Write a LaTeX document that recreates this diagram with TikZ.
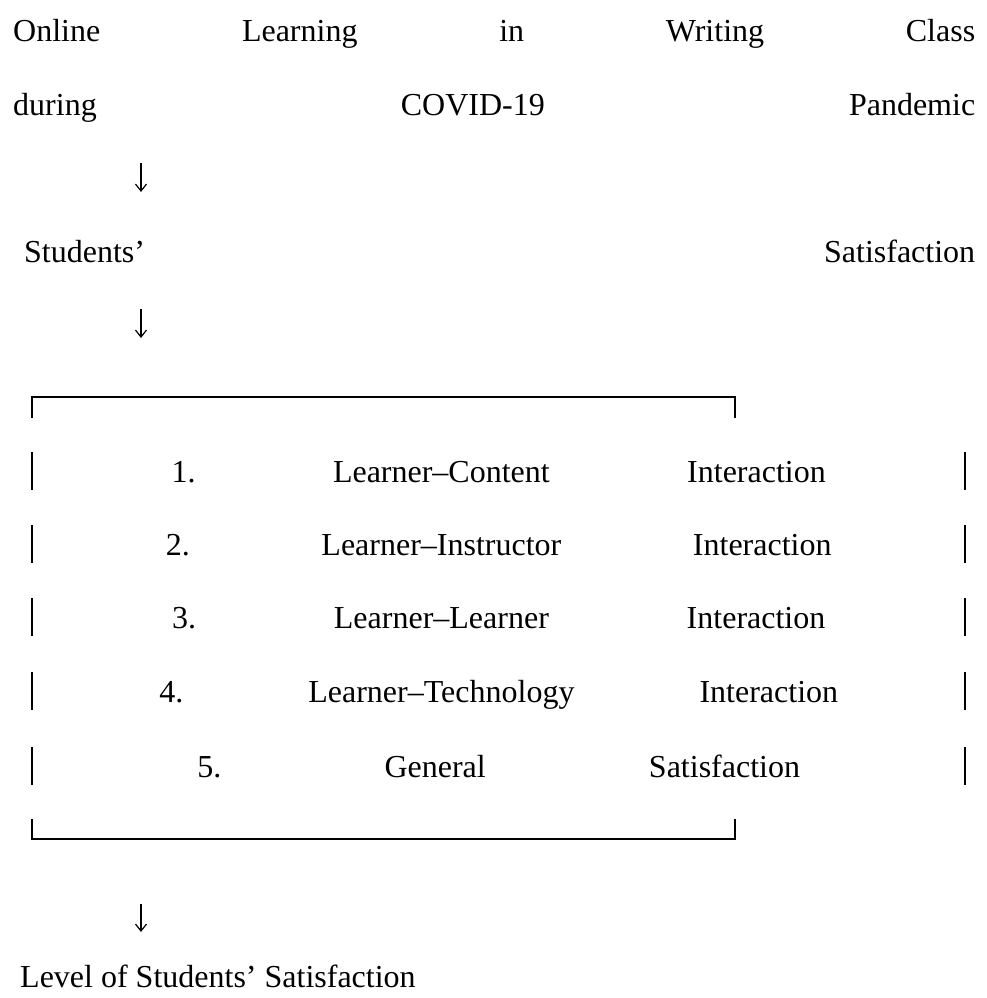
\documentclass[tikz,border=0pt]{standalone}
\usepackage{fontspec}
\setmainfont{Liberation Serif}
\usetikzlibrary{arrows.meta}

\begin{document}
\begin{tikzpicture}[x=1pt,y=-1pt,font=\fontsize{32}{38}\selectfont]
     \tikzstyle{textline}=[inner sep=0pt, anchor=base west]
     \tikzstyle{flow}=[draw, line width=1.2pt, -{Straight Barb[length=7pt,width=11pt]}]
     \tikzstyle{frame}=[draw, line width=2.8pt]
     \useasboundingbox (0,0) rectangle (987,998);
     % heading, spread over the full line
     \node[textline] (title1) at (13,42) {\makebox[962pt][s]{Online Learning in Writing Class}};
     \node[textline] (title2) at (13,115) {\makebox[962pt][s]{during COVID-19 Pandemic}};
     \node[textline] (sat) at (24,262) {\makebox[951pt][s]{Students’ Satisfaction}};
     % indicators inside the bracket
     \node[textline] (ind1) at (34,482) {\makebox[929pt]{\hfill 1.\hfill Learner–Content\hfill Interaction\hfill}};
     \node[textline] (ind2) at (34,555) {\makebox[929pt]{\hfill 2.\hfill Learner–Instructor\hfill Interaction\hfill}};
     \node[textline] (ind3) at (34,628) {\makebox[929pt]{\hfill 3.\hfill Learner–Learner\hfill Interaction\hfill}};
     \node[textline] (ind4) at (34,702) {\makebox[929pt]{\hfill 4.\hfill Learner–Technology\hfill Interaction\hfill}};
     \node[textline] (ind5) at (34,777) {\makebox[929pt]{\hfill 5.\hfill General\hfill Satisfaction\hfill}};
     \node[textline] (level) at (20,987) {Level of Students’ Satisfaction};
     % bracket
     \draw[frame] (32,418) -- (32,397) -- (735,397) -- (735,418);
     \draw[frame] (32,819) -- (32,839) -- (735,839) -- (735,819);
     \foreach \y in {482,555,628,702,777} {
       \draw[frame] (32,\y-30) -- (32,\y+8);
       \draw[frame] (965,\y-30) -- (965,\y+8);
     }
     % arrows
     \coordinate (a1s) at (141,163);
     \coordinate (a1e) at (141,192);
     \coordinate (a2s) at (141,309);
     \coordinate (a2e) at (141,338);
     \coordinate (a3s) at (141,904);
     \coordinate (a3e) at (141,932);
     \draw[flow] (a1s) -- (a1e);
     \draw[flow] (a2s) -- (a2e);
     \draw[flow] (a3s) -- (a3e);
    \end{tikzpicture}
\end{document}
